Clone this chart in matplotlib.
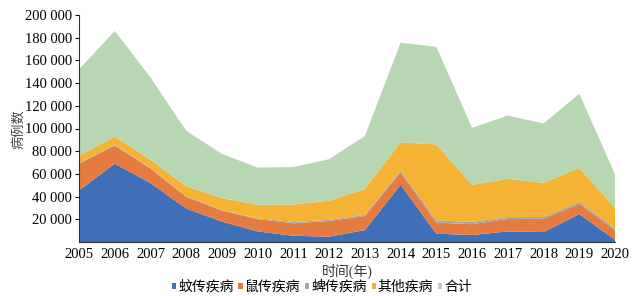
import matplotlib
matplotlib.use("Agg")
import matplotlib.pyplot as plt
import numpy as np

years = list(range(2005, 2021))
mosquito = [45400, 69000, 52000, 29500, 18000, 9300, 5500, 4700, 10500, 50400, 7300, 6200, 9300, 8800, 24600, 2000]
rodent = [23500, 16000, 12800, 10300, 9700, 10900, 11000, 13800, 12400, 11000, 9800, 9500, 11000, 11600, 9000, 8500]
tick_borne = [500, 600, 500, 500, 500, 600, 1200, 1000, 1100, 1500, 2000, 2000, 1800, 1600, 1800, 1500]
other = [6600, 7400, 7200, 8700, 10600, 12000, 15300, 17000, 22700, 24900, 66900, 32600, 33600, 30200, 29900, 17900]
total = [a + b + c + d for a, b, c, d in zip(mosquito, rodent, tick_borne, other)]

labels = ["蚊传疾病", "鼠传疾病", "蜱传疾病", "其他疾病", "合计"]
colors = ["#3E6FB7", "#E57B41", "#A5A5A5", "#F5B335", "#B7D7B2"]

fam = ["Liberation Serif", "Noto Sans CJK SC"]
plt.rcParams["font.family"] = fam

fig = plt.figure(figsize=(6.36, 2.96), dpi=100)
ax = fig.add_axes([79/636, 1-242/296, (615-79)/636, (242-15)/296])
ax.stackplot(years, mosquito, rodent, tick_borne, other, total, colors=colors, labels=labels, linewidth=0)
ax.set_xlim(2005, 2020)
ax.set_ylim(0, 200000)
yt = list(range(20000, 200001, 20000))
ax.set_yticks(yt)
ax.set_yticklabels([f"{v:,}".replace(",", " ") for v in yt], fontsize=10.5)
ax.set_xticks(years)
ax.set_xticklabels([str(y) for y in years], fontsize=10.5)
ax.tick_params(axis="x", length=0, pad=4)
ax.tick_params(axis="y", length=3, width=0.8, pad=2)
for s in ["top", "right"]:
    ax.spines[s].set_visible(False)
for s in ["left", "bottom"]:
    ax.spines[s].set_color("#333333")
    ax.spines[s].set_linewidth(0.8)
ax.set_xlabel("时间(年)", fontsize=10, labelpad=2, color="#333333")
fig.text(19/636, 1-129/296, "病例数", rotation=90, ha="center", va="center",
         fontsize=9.5, color="#444444")

handles, lbls = ax.get_legend_handles_labels()
leg = fig.legend(handles, lbls, loc="center", bbox_to_anchor=(322/636, 1-287/296), ncol=5,
                 frameon=False, fontsize=10, handlelength=0.3, handleheight=0.3,
                 handletextpad=0.15, columnspacing=0.35, borderpad=0)
fig.savefig("out.png", dpi=100)
